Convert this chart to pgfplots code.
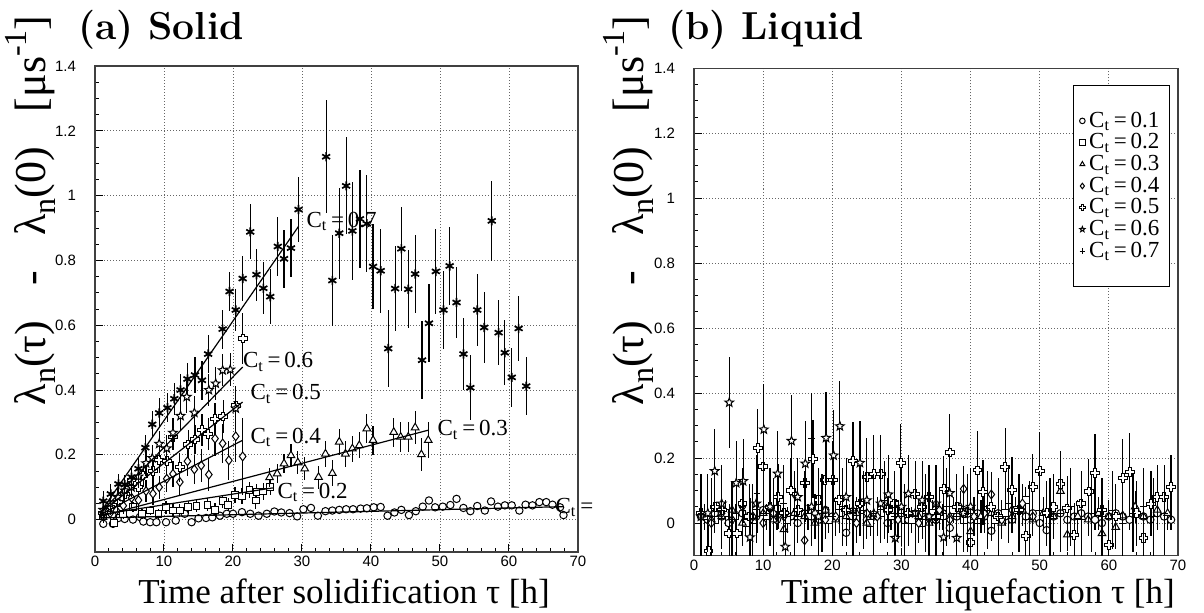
\documentclass[border=0pt]{standalone}
\usepackage{fontspec}
\setmainfont{Liberation Serif}
\setsansfont{Liberation Sans}
\newfontfamily\lmbold{lmroman12-bold.otf}
\usepackage{pgfplots}
\pgfplotsset{compat=1.18}

% open Greek cross
\pgfdeclareplotmark{ocross}{%
  \pgfpathmoveto{\pgfqpoint{0.36\pgfplotmarksize}{\pgfplotmarksize}}%
  \pgfpathlineto{\pgfqpoint{0.36\pgfplotmarksize}{0.36\pgfplotmarksize}}%
  \pgfpathlineto{\pgfqpoint{\pgfplotmarksize}{0.36\pgfplotmarksize}}%
  \pgfpathlineto{\pgfqpoint{\pgfplotmarksize}{-0.36\pgfplotmarksize}}%
  \pgfpathlineto{\pgfqpoint{0.36\pgfplotmarksize}{-0.36\pgfplotmarksize}}%
  \pgfpathlineto{\pgfqpoint{0.36\pgfplotmarksize}{-\pgfplotmarksize}}%
  \pgfpathlineto{\pgfqpoint{-0.36\pgfplotmarksize}{-\pgfplotmarksize}}%
  \pgfpathlineto{\pgfqpoint{-0.36\pgfplotmarksize}{-0.36\pgfplotmarksize}}%
  \pgfpathlineto{\pgfqpoint{-\pgfplotmarksize}{-0.36\pgfplotmarksize}}%
  \pgfpathlineto{\pgfqpoint{-\pgfplotmarksize}{0.36\pgfplotmarksize}}%
  \pgfpathlineto{\pgfqpoint{-0.36\pgfplotmarksize}{0.36\pgfplotmarksize}}%
  \pgfpathlineto{\pgfqpoint{-0.36\pgfplotmarksize}{\pgfplotmarksize}}%
  \pgfpathclose
  \pgfusepathqfillstroke
}
% open five-point star
\pgfdeclareplotmark{ostar}{%
  \pgfpathmoveto{\pgfqpointpolar{90}{\pgfplotmarksize}}%
  \pgfpathlineto{\pgfqpointpolar{126}{0.42\pgfplotmarksize}}%
  \pgfpathlineto{\pgfqpointpolar{162}{\pgfplotmarksize}}%
  \pgfpathlineto{\pgfqpointpolar{198}{0.42\pgfplotmarksize}}%
  \pgfpathlineto{\pgfqpointpolar{234}{\pgfplotmarksize}}%
  \pgfpathlineto{\pgfqpointpolar{270}{0.42\pgfplotmarksize}}%
  \pgfpathlineto{\pgfqpointpolar{306}{\pgfplotmarksize}}%
  \pgfpathlineto{\pgfqpointpolar{342}{0.42\pgfplotmarksize}}%
  \pgfpathlineto{\pgfqpointpolar{18}{\pgfplotmarksize}}%
  \pgfpathlineto{\pgfqpointpolar{54}{0.42\pgfplotmarksize}}%
  \pgfpathclose
  \pgfusepathqfillstroke
}

\pgfplotsset{
  panel/.style={
    scale only axis, anchor=south west,
    xmin=0, xmax=70, ymin=-0.1, ymax=1.4,
    xtick={0,10,...,70}, ytick={0,0.2,0.4,0.6,0.8,1,1.2,1.4},
    minor x tick num=4, minor y tick num=3,
    tick pos=left, tick align=inside,
    major tick length=4pt, minor tick length=2pt,
    tick style={black, line width=0.5pt},
    axis line style={black!75, line width=0.6pt},
    grid=major,
    major grid style={black!60, line width=0.45pt, dash pattern=on 0.5pt off 1pt},
    tick label style={font=\fontsize{7.5}{8}\selectfont\sffamily},
    /pgf/number format/assume math mode=true,
    yticklabel style={xshift=-6pt},
    xticklabel style={inner sep=1pt, yshift=-1pt},
    clip mode=individual,
  },
  eb/.style={error bars/.cd, y dir=both, y explicit, error mark=none,
    error bar style={line width=0.6pt, black}},
  sA/.style={only marks, mark=*, mark size=1.85pt, mark options={fill=white, draw=black, line width=0.5pt}},
  sB/.style={only marks, mark=square*, mark size=1.7pt, mark options={fill=white, draw=black, line width=0.5pt}},
  sC/.style={only marks, mark=triangle*, mark size=2.2pt, mark options={fill=white, draw=black, line width=0.5pt}},
  sD/.style={only marks, mark=diamond*, mark size=2.2pt, mark options={fill=white, draw=black, line width=0.5pt}},
  sE/.style={only marks, mark=ocross, mark size=2.2pt, mark options={fill=white, draw=black, line width=0.5pt}},
  sF/.style={only marks, mark=ostar, mark size=2.3pt, mark options={fill=white, draw=black, line width=0.5pt}},
  sG/.style={only marks, mark=asterisk, mark size=2.3pt, mark options={draw=black, line width=0.85pt}},
  sH/.style={only marks, mark=+, mark size=1.7pt, mark options={draw=black, line width=0.5pt}},
  fit/.style={no marks, black, line width=0.6pt},
}
\newcommand\lab{\fontsize{11.5}{13}\selectfont}
\newcommand\ylab{\fontsize{22}{24}\selectfont
  λ\raisebox{-0.22em}{\fontsize{16}{16}\selectfont n}(τ)\hspace{0.8em}-\hspace{0.8em}%
  λ\raisebox{-0.22em}{\fontsize{16}{16}\selectfont n}(0)\hspace{0.8em}%
  [μs\raisebox{0.45em}{\fontsize{16}{16}\selectfont -1}]}

\begin{document}
\begin{tikzpicture}
\useasboundingbox (0,0) rectangle (602pt,306pt);

% ---------------- (a) Solid ----------------
\begin{axis}[panel, at={(47.5pt,30pt)}, width=241.5pt, height=243pt]
\addplot[sA, eb] table[x=x, y=y, y error=e] {
x y e
1.2 -0.013 0.01
2.6 -0.013 0.01
3.4 0.005 0.01
4.3 0.002 0.01
5.5 0.0 0.01
6.5 0.008 0.01
7.0 -0.006 0.01
8.0 -0.008 0.01
8.9 -0.008 0.01
10.3 -0.008 0.01
11.7 -0.003 0.01
13.0 0.018 0.01
14.0 -0.008 0.01
15.0 0.004 0.01
16.1 0.005 0.01
17.0 0.007 0.01
18.1 0.012 0.01
19.1 0.018 0.01
20.0 0.018 0.01
21.3 0.023 0.01
22.5 0.018 0.01
23.7 0.012 0.01
24.9 0.018 0.01
26.0 0.025 0.01
27.0 0.022 0.01
28.2 0.02 0.01
29.3 0.01 0.01
30.2 0.032 0.01
31.3 0.036 0.01
32.3 0.012 0.01
33.4 0.026 0.01
34.4 0.028 0.01
35.4 0.03 0.01
36.4 0.032 0.01
37.4 0.032 0.01
38.5 0.034 0.01
39.4 0.035 0.01
40.4 0.038 0.01
41.4 0.039 0.01
42.4 0.012 0.01
43.4 0.022 0.01
44.4 0.03 0.01
45.5 0.014 0.01
46.5 0.026 0.01
47.5 0.04 0.01
48.4 0.059 0.012
49.3 0.038 0.01
50.4 0.04 0.01
51.5 0.045 0.01
52.4 0.064 0.012
53.4 0.036 0.01
54.4 0.026 0.01
55.4 0.042 0.01
56.5 0.028 0.01
57.4 0.056 0.01
58.4 0.04 0.01
59.4 0.044 0.01
60.4 0.044 0.01
61.5 0.028 0.01
62.4 0.046 0.01
63.4 0.044 0.01
64.4 0.054 0.01
65.4 0.054 0.01
66.3 0.046 0.01
67.4 0.038 0.01
67.9 0.014 0.01
};
\addplot[sB, eb] table[x=x, y=y, y error=e] {
x y e
1.2 0.01 0.015
2.7 -0.011 0.015
4.1 0.018 0.015
5.5 0.04 0.015
6.8 0.018 0.015
8.0 0.028 0.015
9.2 0.018 0.015
10.3 0.038 0.02
11.3 0.028 0.02
12.3 0.028 0.02
13.5 0.038 0.02
14.7 0.043 0.02
16.3 0.046 0.02
17.4 0.03 0.02
18.5 0.057 0.02
19.3 0.046 0.02
20.3 0.075 0.025
21.3 0.072 0.025
22.4 0.091 0.025
23.4 0.085 0.025
23.3 0.059 0.025
24.4 0.087 0.025
25.4 0.1 0.025
};
\addplot[sC, eb] table[x=x, y=y, y error=e] {
x y e
25.3 0.13 0.03
26.4 0.142 0.03
27.4 0.173 0.03
28.4 0.198 0.035
29.4 0.176 0.035
30.4 0.157 0.035
32.4 0.131 0.035
33.4 0.203 0.04
34.4 0.143 0.04
35.4 0.24 0.04
36.3 0.203 0.04
37.3 0.219 0.04
38.3 0.229 0.04
39.4 0.281 0.045
40.3 0.245 0.045
43.3 0.27 0.045
44.3 0.255 0.045
45.4 0.255 0.045
46.4 0.284 0.05
47.3 0.201 0.05
48.3 0.245 0.055
};
\addplot[sD, eb] table[x=x, y=y, y error=e] {
x y e
1.2 0.01 0.02
2.2 0.02 0.02
3.1 0.028 0.025
4.1 0.043 0.025
5.3 0.067 0.03
6.3 0.06 0.03
7.4 0.088 0.035
8.4 0.08 0.035
9.3 0.1 0.035
10.4 0.126 0.04
11.3 0.141 0.04
12.3 0.116 0.04
13.4 0.18 0.045
14.4 0.155 0.045
15.4 0.167 0.05
16.5 0.139 0.05
17.4 0.25 0.055
18.5 0.235 0.06
19.4 0.183 0.06
20.4 0.257 0.08
21.4 0.195 0.12
};
\addplot[sE, eb] table[x=x, y=y, y error=e] {
x y e
1.2 0.02 0.025
2.2 0.04 0.025
3.3 0.055 0.03
4.3 0.08 0.03
5.3 0.121 0.03
6.3 0.1 0.03
7.0 0.136 0.035
8.4 0.15 0.035
9.3 0.183 0.04
10.4 0.18 0.04
11.3 0.255 0.04
12.3 0.162 0.045
13.5 0.232 0.045
14.5 0.247 0.045
15.5 0.277 0.05
16.4 0.265 0.05
17.4 0.31 0.05
18.6 0.318 0.05
20.4 0.352 0.06
21.4 0.559 0.08
};
\addplot[sF, eb] table[x=x, y=y, y error=e] {
x y e
1.2 0.03 0.03
2.2 0.05 0.03
3.3 0.07 0.03
4.3 0.09 0.03
5.3 0.1 0.03
6.3 0.133 0.035
7.4 0.174 0.04
8.3 0.19 0.04
9.3 0.234 0.04
10.4 0.22 0.04
11.3 0.268 0.045
12.4 0.32 0.045
13.3 0.379 0.05
14.4 0.33 0.05
16.5 0.40 0.05
17.5 0.42 0.05
18.5 0.461 0.05
19.6 0.463 0.05
20.4 0.343 0.06
};
\addplot[sG, eb] table[x=x, y=y, y error=e] {
x y e
1.2 0.057 0.03
2.3 0.079 0.03
3.4 0.11 0.03
4.3 0.108 0.03
5.3 0.131 0.035
6.3 0.157 0.035
7.3 0.222 0.04
8.3 0.294 0.04
9.3 0.329 0.045
10.5 0.345 0.045
11.5 0.373 0.05
12.4 0.40 0.05
13.4 0.434 0.05
14.5 0.446 0.055
15.5 0.43 0.06
16.4 0.511 0.06
18.5 0.588 0.06
19.5 0.704 0.06
20.4 0.647 0.065
21.4 0.744 0.07
22.5 0.888 0.085
23.4 0.756 0.08
24.4 0.714 0.08
25.4 0.688 0.085
26.5 0.843 0.09
27.4 0.805 0.09
28.4 0.838 0.09
29.5 0.957 0.1
33.5 1.12 0.175
34.4 0.738 0.14
35.4 0.884 0.14
36.4 1.03 0.15
37.3 0.891 0.15
38.4 0.928 0.15
39.4 0.913 0.15
40.3 0.781 0.13
41.4 0.768 0.13
42.5 0.528 0.12
43.5 0.713 0.13
44.4 0.836 0.13
45.4 0.711 0.12
46.4 0.758 0.12
47.4 0.492 0.12
48.4 0.606 0.12
49.4 0.766 0.13
50.5 0.647 0.12
51.4 0.783 0.12
52.4 0.670 0.11
53.4 0.511 0.11
54.4 0.407 0.1
55.4 0.647 0.11
56.4 0.593 0.11
57.5 0.922 0.124
58.5 0.577 0.1
59.4 0.515 0.1
60.4 0.439 0.09
61.4 0.590 0.1
62.5 0.412 0.09
};
% straight-line fits
\addplot[fit] coordinates {(0.7,0.005) (67.8,0.04)};
\addplot[fit] coordinates {(0.7,0.015) (25.8,0.098)};
\addplot[fit] coordinates {(0.7,0.01) (48.3,0.276)};
\addplot[fit] coordinates {(0.7,0.015) (21.4,0.245)};
\addplot[fit] coordinates {(0.7,0.02) (21.4,0.363)};
\addplot[fit] coordinates {(0.7,0.02) (21.4,0.471)};
\addplot[fit] coordinates {(0.7,0.02) (29.5,0.905)};
\node[anchor=west, font=\lab, inner sep=0pt] at (axis cs:30.6,0.92) {C\textsubscript{t}\,=\,0.7};
\node[anchor=west, font=\lab, inner sep=0pt] at (axis cs:21.4,0.486) {C\textsubscript{t}\,=\,0.6};
\node[anchor=west, font=\lab, inner sep=0pt] at (axis cs:22.5,0.387) {C\textsubscript{t}\,=\,0.5};
\node[anchor=west, font=\lab, inner sep=0pt] at (axis cs:22.5,0.254) {C\textsubscript{t}\,=\,0.4};
\node[anchor=west, font=\lab, inner sep=0pt] at (axis cs:49.6,0.276) {C\textsubscript{t}\,=\,0.3};
\node[anchor=west, font=\lab, inner sep=0pt] at (axis cs:26.4,0.084) {C\textsubscript{t}\,=\,0.2};
\node[anchor=west, font=\lab, inner sep=0pt] at (axis cs:66.7,0.037) {C\textsubscript{t}\,=};
\end{axis}

% ---------------- (b) Liquid ----------------
\begin{axis}[panel, at={(347pt,28.25pt)}, width=242pt, height=243.6pt,
  legend style={at={(0.983,0.965)}, anchor=north east, draw=black,
    font=\lab, inner xsep=3pt, inner ysep=11pt, row sep=-2.3pt, cells={anchor=west}},
  legend cell align=left,
  legend image code/.code={\draw[#1, mark size=1.4pt] plot coordinates {(0pt,0pt)};},
]
\addplot[sA, eb] table[x=x, y=y, y error=e] {
x y e
1 0.02 0.03
2 0.01 0.03
3 0.03 0.03
4 0.02 0.03
5 0.0 0.03
6 0.025 0.03
7 0.03 0.03
8 0.01 0.03
9 0.02 0.03
10 0.04 0.03
11 0.02 0.03
12 0.01 0.03
13 0.03 0.03
14 0.02 0.03
15 0.0 0.03
16 0.03 0.03
17 0.02 0.03
18 0.01 0.03
19 0.04 0.03
20 0.02 0.03
21 0.03 0.03
22 -0.03 0.04
23 0.02 0.03
24 0.04 0.03
25 0.01 0.03
26 0.02 0.03
27 0.03 0.03
28 0.0 0.03
29 0.02 0.03
30 0.03 0.03
31 0.01 0.03
32 0.02 0.03
33 0.03 0.03
34 0.02 0.03
35 0.01 0.03
36 0.03 0.03
37 -0.015 0.03
38 0.02 0.03
39 0.04 0.03
40 0.01 0.03
41 0.03 0.03
42 0.02 0.03
43 -0.024 0.03
44 0.03 0.03
45 0.02 0.03
46 0.01 0.03
47 0.04 0.03
48 0.02 0.03
49 0.03 0.03
50 0.0 0.03
51 -0.022 0.03
52 0.02 0.03
53 0.03 0.03
54 0.01 0.03
55 0.02 0.03
56 0.03 0.03
57 0.02 0.03
58 0.01 0.03
59 0.0 0.03
60 0.02 0.03
61 0.03 0.03
62 0.02 0.03
63 0.01 0.03
64 0.03 0.03
65 0.02 0.03
66 0.01 0.03
67 0.03 0.03
68 0.02 0.03
69 0.01 0.03
};
\addplot[sB, eb] table[x=x, y=y, y error=e] {
x y e
1.5 0.02 0.04
3 0.01 0.04
4.5 0.03 0.04
6 0.02 0.04
7.5 0.0 0.04
9 0.03 0.04
10.5 0.02 0.04
12 0.045 0.04
13.5 0.01 0.04
15 0.03 0.04
16.5 0.02 0.04
18 0.05 0.04
19.5 0.01 0.04
21 0.03 0.04
22.5 0.02 0.04
24 0.04 0.04
25.5 0.0 0.04
27 0.03 0.04
28.5 0.02 0.04
30 0.04 0.04
31.5 0.01 0.04
33 0.0 0.04
34.5 0.03 0.04
36 0.02 0.04
37.5 0.04 0.04
39 0.01 0.04
40.5 0.02 0.04
42 0.04 0.04
43.5 0.01 0.04
45 0.03 0.04
46.5 0.04 0.04
48 0.07 0.04
};
\addplot[sC, eb] table[x=x, y=y, y error=e] {
x y e
1 0.03 0.05
2.5 0.01 0.05
4 0.02 0.05
5.5 0.04 0.05
7 0.0 0.05
8.5 0.02 0.05
10 0.03 0.05
11.5 0.01 0.05
13 -0.02 0.05
14.5 0.03 0.05
16 0.02 0.05
17.5 0.0 0.05
19 0.04 0.05
20.5 0.01 0.05
22 0.02 0.05
23.5 0.03 0.05
25 0.0 0.05
26.5 0.02 0.05
28 0.04 0.05
29.5 0.01 0.05
31 0.03 0.05
32.5 0.02 0.05
34 0.0 0.05
35.5 0.03 0.05
37 0.02 0.05
38.5 0.05 0.05
40 -0.026 0.05
41.5 0.02 0.05
43 0.03 0.05
44.5 0.0 0.05
46 0.02 0.05
47.5 0.04 0.05
49 0.01 0.05
50.5 0.03 0.05
52 0.02 0.05
53 0.098 0.06
54 -0.036 0.05
55.5 0.02 0.05
57 0.01 0.05
58.5 0.03 0.05
59 -0.032 0.05
60 0.02 0.05
61 -0.013 0.05
62 0.023 0.05
63.8 0.05 0.05
65 0.02 0.05
67 0.04 0.05
68.5 0.03 0.05
};
\addplot[sD, eb] table[x=x, y=y, y error=e] {
x y e
1 0.02 0.06
2.5 0.0 0.06
4 0.03 0.06
5.5 0.01 0.06
7 0.05 0.06
8.5 0.02 0.06
10 0.0 0.06
11.5 0.03 0.06
13 0.02 0.06
14.5 0.09 0.07
16 -0.053 0.06
17.5 0.03 0.06
19 0.01 0.06
20.5 0.02 0.06
22 0.04 0.06
23.5 0.0 0.06
25 0.03 0.06
26.5 0.02 0.06
28 0.05 0.06
29.5 0.01 0.06
31 0.03 0.06
32.5 0.0 0.06
34 0.02 0.06
35.5 0.04 0.06
37 0.01 0.06
39 0.105 0.07
40.5 0.02 0.06
42 0.03 0.06
43 0.088 0.07
44.5 0.01 0.06
46 0.04 0.06
47.5 0.06 0.06
49 0.02 0.06
};
\addplot[sE, eb] table[x=x, y=y, y error=e] {
x y e
1 0.03 0.08
2.1 -0.085 0.08
3 0.05 0.08
4 0.04 0.08
5.1 -0.032 0.09
6.2 -0.032 0.09
7 0.06 0.1
8 0.02 0.1
9.2 0.232 0.12
10 0.174 0.12
11 0.05 0.1
12.2 0.081 0.1
13 0.03 0.1
14 0.1 0.1
15 0.04 0.1
16.1 0.123 0.12
17.2 0.198 0.12
18 0.07 0.1
19 0.133 0.12
20.1 0.133 0.12
21 0.07 0.1
22 0.04 0.1
23 0.191 0.12
24 0.06 0.1
25 0.141 0.12
26 0.152 0.12
27 0.152 0.12
28 0.04 0.1
29 0.06 0.1
29.9 0.185 0.12
31 0.03 0.1
32 0.09 0.1
33 0.05 0.1
34 0.08 0.1
35 0.02 0.1
36.1 0.105 0.1
37 0.217 0.12
38 0.05 0.1
39 0.03 0.1
40 -0.06 0.1
41 0.162 0.12
41.8 0.095 0.1
43 0.05 0.1
44 0.02 0.1
45 0.172 0.12
46 0.102 0.1
47 0.04 0.1
48 -0.039 0.1
49 0.112 0.1
50 0.16 0.12
51 0.03 0.1
52 0.05 0.1
53 0.121 0.1
54 0.045 0.1
55 -0.037 0.1
56 0.06 0.1
57.1 0.097 0.1
58 0.154 0.12
59 0.04 0.1
60 -0.067 0.1
61 0.02 0.1
62 0.139 0.12
63 0.157 0.12
64 0.03 0.1
65 -0.046 0.1
66.1 0.059 0.1
67 0.08 0.1
68 0.08 0.1
69 0.11 0.1
};
\addplot[sF, eb] table[x=x, y=y, y error=e] {
x y e
1 0.02 0.12
2 0.03 0.12
3 0.16 0.13
4 0.06 0.12
5.1 0.371 0.14
6.1 0.123 0.13
7.1 0.129 0.13
8.1 -0.044 0.12
9 0.06 0.12
10.1 0.288 0.14
11 0.05 0.12
12.1 0.152 0.13
13.2 -0.073 0.12
14.1 0.253 0.14
15 0.08 0.12
16.1 0.183 0.13
17 0.05 0.12
18 0.02 0.12
19.1 0.262 0.14
20.2 0.208 0.14
21.1 0.298 0.14
22 0.08 0.12
23 0.04 0.12
24 0.185 0.13
25 0.07 0.12
26 0.03 0.12
27 0.06 0.12
28.1 0.088 0.12
29.1 -0.046 0.12
30 0.05 0.12
31 0.09 0.12
32 0.03 0.12
33 0.07 0.12
34 0.02 0.12
35 0.06 0.12
36.1 -0.044 0.12
37 0.092 0.12
38 -0.046 0.12
39 0.03 0.12
40 0.05 0.12
};
\addplot[sH, eb] table[x=x, y=y, y error=e] {
x y e
1 0.03 0.12
2.5 0.02 0.12
4 0.04 0.12
5.5 0.01 0.12
7 0.05 0.12
8.5 0.0 0.12
9.1 0.09 0.12
10 0.03 0.12
11.5 0.02 0.12
13 0.06 0.12
14.5 0.01 0.12
16 0.04 0.12
17 0.26 0.14
18.5 0.03 0.12
20 0.02 0.12
21.5 0.05 0.12
23 0.01 0.12
24.5 0.04 0.12
26 0.03 0.12
27.5 0.07 0.12
29 0.02 0.12
30.5 0.0 0.12
32 0.04 0.12
33.5 0.03 0.12
35 0.01 0.12
36.5 0.05 0.12
38 0.02 0.12
39.5 0.03 0.12
41 0.0 0.12
42.5 0.04 0.12
44 0.02 0.12
45.5 0.06 0.12
47 0.03 0.12
48.5 0.01 0.12
50 0.04 0.12
51.5 0.02 0.12
53 0.03 0.12
54.5 0.05 0.12
56 0.01 0.12
57.5 0.03 0.12
59 0.02 0.12
60.5 0.04 0.12
62 0.0 0.12
63.5 0.03 0.12
65 0.05 0.12
66.5 0.02 0.12
68 0.03 0.12
};
\legend{C\textsubscript{t}\,=\,0.1, C\textsubscript{t}\,=\,0.2, C\textsubscript{t}\,=\,0.3,
  C\textsubscript{t}\,=\,0.4, C\textsubscript{t}\,=\,0.5, C\textsubscript{t}\,=\,0.6,
  C\textsubscript{t}\,=\,0.7}
\end{axis}

% titles and axis labels
\node[anchor=west, font=\lmbold\fontsize{19.5}{21}\selectfont, inner sep=0pt] at (39pt,291pt) {(a) Solid};
\node[anchor=west, font=\lmbold\fontsize{19.5}{21}\selectfont, inner sep=0pt] at (334pt,291pt) {(b) Liquid};
\node[rotate=90, anchor=south east, inner sep=0pt] at (28pt,298.5pt) {\ylab};
\node[rotate=90, anchor=south east, inner sep=0pt] at (327pt,298.5pt) {\ylab};
\node[anchor=base east, font=\fontsize{17.5}{19}\selectfont, inner sep=0pt] at (275pt,4.5pt) {Time after solidification τ [h]};
\node[anchor=base east, font=\fontsize{17.5}{19}\selectfont, inner sep=0pt] at (587.5pt,4.5pt) {Time after liquefaction τ [h]};
\end{tikzpicture}
\end{document}
